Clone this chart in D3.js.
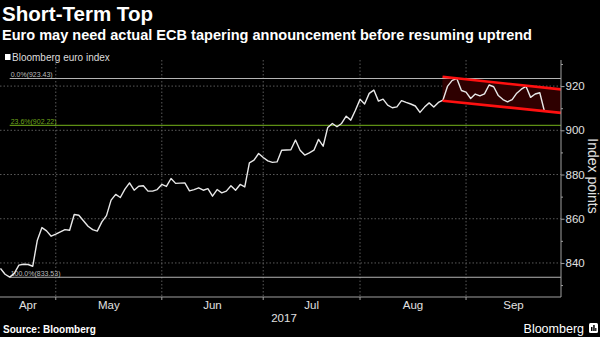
<!DOCTYPE html>
<html>
<head>
<meta charset="utf-8">
<script src="https://cdn.jsdelivr.net/npm/d3@7"></script>
<style>
  html, body { margin: 0; padding: 0; background: #000; }
  svg { display: block; }
</style>
</head>
<body>
<svg id="chart" width="600" height="337"></svg>
<script>
// ---- data ----
const startIndex = -12; // trading-day index of first value (0 = May 1, 2017)
const values = [
  837.5, 834.9, 833.6, 835.3, 839.0, 839.4, 839.3, 838.5, 850.3, 856.0, 854.5, 852.1,
  853.0, 854.1, 855.1, 854.8, 861.9, 861.6, 859.1, 856.6, 855.1, 854.4, 858.6, 861.4,
  868.4, 871.0, 869.6, 873.4, 876.2, 872.9, 874.7, 874.9, 872.5, 872.5, 873.2, 875.5,
  874.6, 878.2, 876.0, 876.1, 876.2, 872.6, 873.2, 874.0, 872.9, 873.6, 870.2, 873.2,
  871.7, 872.5, 874.9, 872.9, 875.5, 874.4, 885.3, 886.5, 889.5, 887.7, 886.2, 885.5,
  885.7, 891.0, 891.1, 891.2, 895.6, 891.0, 888.8, 889.8, 891.0, 895.9, 892.8, 901.3,
  903.1, 901.6, 903.1, 906.4, 904.6, 909.1, 914.0, 911.9, 916.7, 918.2, 913.2, 914.1,
  911.4, 910.2, 910.6, 913.4, 912.6, 911.9, 911.0, 908.1, 910.5, 912.4, 910.5, 912.6,
  913.7, 920.0, 922.6, 923.4, 918.0, 917.3, 914.4, 916.4, 915.6, 916.5, 920.5, 919.7,
  915.7, 913.9, 912.9, 913.9, 916.8, 918.6, 919.9, 914.9, 916.4, 917.0, 908.6
];
const xDomain = [-12.1, 109.6];
const yDomain = [824.6, 931.8];
const monthLabels = ["Apr", "May", "Jun", "Jul", "Aug", "Sep"];
const monthStarts = [-30, 0, 23, 45, 66, 89]; // trading-day index of first day of month
const yearLabel = "2017";
const yTicks = [830, 840, 850, 860, 870, 880, 890, 900, 910, 920, 930];
const yLabelTicks = [840, 860, 880, 900, 920];
const fibLabels = ["0.0%(923.43)", "23.6%(902.22)", "100.0%(833.53)"];
const fibValues = [923.43, 902.22, 833.53];
const fibStart = -10; // swing low index
const channelX = [83.9, 109.6];
const channelTop = [924.2, 918.5];
const channelBottom = [913.4, 907.9];

const title = "Short-Term Top";
const subtitle = "Euro may need actual ECB tapering announcement before resuming uptrend";
const legendLabel = "Bloomberg euro index";
const axisTitle = "Index points";
const source = "Source: Bloomberg";
const brand = "Bloomberg";

// ---- layout ----
const svg = d3.select("#chart");
const plot = { left: 0, right: 561, top: 60, bottom: 297 };
const x = d3.scaleLinear().domain(xDomain).range([plot.left, plot.right]);
const y = d3.scaleLinear().domain(yDomain).range([plot.bottom, plot.top]);
const sans = "'Liberation Sans', Arial, sans-serif";

svg.append("rect").attr("width", 600).attr("height", 337).attr("fill", "#000");

// titles
svg.append("text").attr("x", 2).attr("y", 21).text(title)
  .attr("fill", "#fff").attr("font-family", sans).attr("font-weight", "bold")
  .attr("font-size", 20).attr("textLength", 151).attr("lengthAdjust", "spacingAndGlyphs");
svg.append("text").attr("x", 2).attr("y", 39.5).text(subtitle)
  .attr("fill", "#fff").attr("font-family", sans).attr("font-weight", "bold")
  .attr("font-size", 14.5).attr("textLength", 530).attr("lengthAdjust", "spacingAndGlyphs");

// legend
svg.append("rect").attr("x", 5).attr("y", 54).attr("width", 5.5).attr("height", 6).attr("fill", "#fff");
svg.append("text").attr("x", 12).attr("y", 61).text(legendLabel)
  .attr("fill", "#ddd").attr("font-family", sans).attr("font-size", 10);

// gridlines
const g = svg.append("g");
g.selectAll("line.hgrid").data(yLabelTicks).join("line").attr("class", "hgrid")
  .attr("x1", plot.left).attr("x2", plot.right)
  .attr("y1", d => y(d)).attr("y2", d => y(d))
  .attr("stroke", "#5a5a5a").attr("stroke-width", 1).attr("stroke-dasharray", "1.5,2");
const boundaries = monthStarts.filter(d => d > xDomain[0] && d < xDomain[1]);
g.selectAll("line.vgrid").data(boundaries).join("line").attr("class", "vgrid")
  .attr("x1", d => x(d)).attr("x2", d => x(d))
  .attr("y1", plot.top).attr("y2", plot.bottom)
  .attr("stroke", "#5a5a5a").attr("stroke-width", 1).attr("stroke-dasharray", "1.5,2");

// channel
const chPoly = [
  [channelX[0], channelTop[0]], [channelX[1], channelTop[1]],
  [channelX[1], channelBottom[1]], [channelX[0], channelBottom[0]]
];
g.append("path")
  .attr("d", d3.line().x(d => x(d[0])).y(d => y(d[1]))(chPoly) + "Z")
  .attr("fill", "#2e0000");

// fib lines
const fibColors = ["#b4b4b4", "#5e8f14", "#b4b4b4"];
fibValues.forEach((v, k) => {
  g.append("line").attr("x1", x(fibStart)).attr("x2", plot.right)
    .attr("y1", y(v)).attr("y2", y(v))
    .attr("stroke", fibColors[k]).attr("stroke-width", 1.2);
  g.append("text").attr("x", x(fibStart) + 1).attr("y", y(v) - 1.5)
    .text(fibLabels[k]).attr("fill", k === 1 ? "#6fa51c" : "#bdbdbd")
    .attr("font-family", sans).attr("font-size", 7);
});

// data line
g.append("path").datum(values)
  .attr("d", d3.line().x((d, i) => x(startIndex + i)).y(d => y(d)))
  .attr("fill", "none").attr("stroke", "#e8e8e8").attr("stroke-width", 1.4)
  .attr("stroke-linejoin", "round");

// channel lines
[channelTop, channelBottom].forEach(c => {
  g.append("line").attr("x1", x(channelX[0])).attr("x2", x(channelX[1]))
    .attr("y1", y(c[0])).attr("y2", y(c[1]))
    .attr("stroke", "#ff1010").attr("stroke-width", 2.6);
});

// right axis
const yAxis = d3.axisRight(y).tickValues(yTicks)
  .tickSize(3).tickPadding(3)
  .tickFormat(d => yLabelTicks.includes(d) ? d : "");
const ya = svg.append("g").attr("transform", `translate(${plot.right},0)`).call(yAxis);
ya.select(".domain").attr("stroke", "#a0a0a0").attr("d", `M0,${plot.top}V${plot.bottom}`);
ya.selectAll(".tick line").attr("stroke", "#a0a0a0")
  .attr("x2", d => yLabelTicks.includes(d) ? 3.5 : 2);
ya.selectAll(".tick text").attr("fill", "#e0e0e0").attr("font-family", sans)
  .attr("font-size", 11.5).attr("x", 4.5);

// bottom axis line + ticks
svg.append("line").attr("x1", plot.left).attr("x2", plot.right)
  .attr("y1", plot.bottom).attr("y2", plot.bottom).attr("stroke", "#a0a0a0").attr("stroke-width", 1.2);
svg.selectAll("line.xtick").data(boundaries).join("line").attr("class", "xtick")
  .attr("x1", d => x(d)).attr("x2", d => x(d))
  .attr("y1", plot.bottom).attr("y2", plot.bottom + 3).attr("stroke", "#a0a0a0");

// month labels centred in the visible part of each month
monthLabels.forEach((m, k) => {
  const a = Math.max(monthStarts[k], xDomain[0]);
  const b = Math.min(k + 1 < monthStarts.length ? monthStarts[k + 1] : xDomain[1], xDomain[1]);
  svg.append("text").attr("x", x((a + b) / 2)).attr("y", 309).text(m)
    .attr("text-anchor", "middle").attr("fill", "#e0e0e0")
    .attr("font-family", sans).attr("font-size", 11.5);
});
svg.append("text").attr("x", 284).attr("y", 322).text(yearLabel)
  .attr("text-anchor", "middle").attr("fill", "#e0e0e0")
  .attr("font-family", sans).attr("font-size", 11.5);

// axis title
svg.append("text").attr("transform", "translate(588,176) rotate(90)")
  .attr("text-anchor", "middle").text(axisTitle)
  .attr("fill", "#e0e0e0").attr("font-family", sans).attr("font-size", 14);

// footer
svg.append("text").attr("x", 3).attr("y", 333).text(source)
  .attr("fill", "#fff").attr("font-family", sans).attr("font-weight", "bold").attr("font-size", 10);
svg.append("text").attr("x", 584).attr("y", 333).attr("text-anchor", "end").text(brand)
  .attr("fill", "#fff").attr("font-family", sans).attr("font-size", 12.5);
const logo = svg.append("g").attr("transform", "translate(589,323)");
logo.append("rect").attr("width", 9).attr("height", 10).attr("rx", 1.5).attr("fill", "#fff");
logo.append("rect").attr("x", 2).attr("y", 4).attr("width", 1.5).attr("height", 4).attr("fill", "#000");
logo.append("rect").attr("x", 4.2).attr("y", 2).attr("width", 1.5).attr("height", 6).attr("fill", "#000");
logo.append("rect").attr("x", 6.2).attr("y", 5).attr("width", 1.2).attr("height", 3).attr("fill", "#000");
</script>
</body>
</html>
